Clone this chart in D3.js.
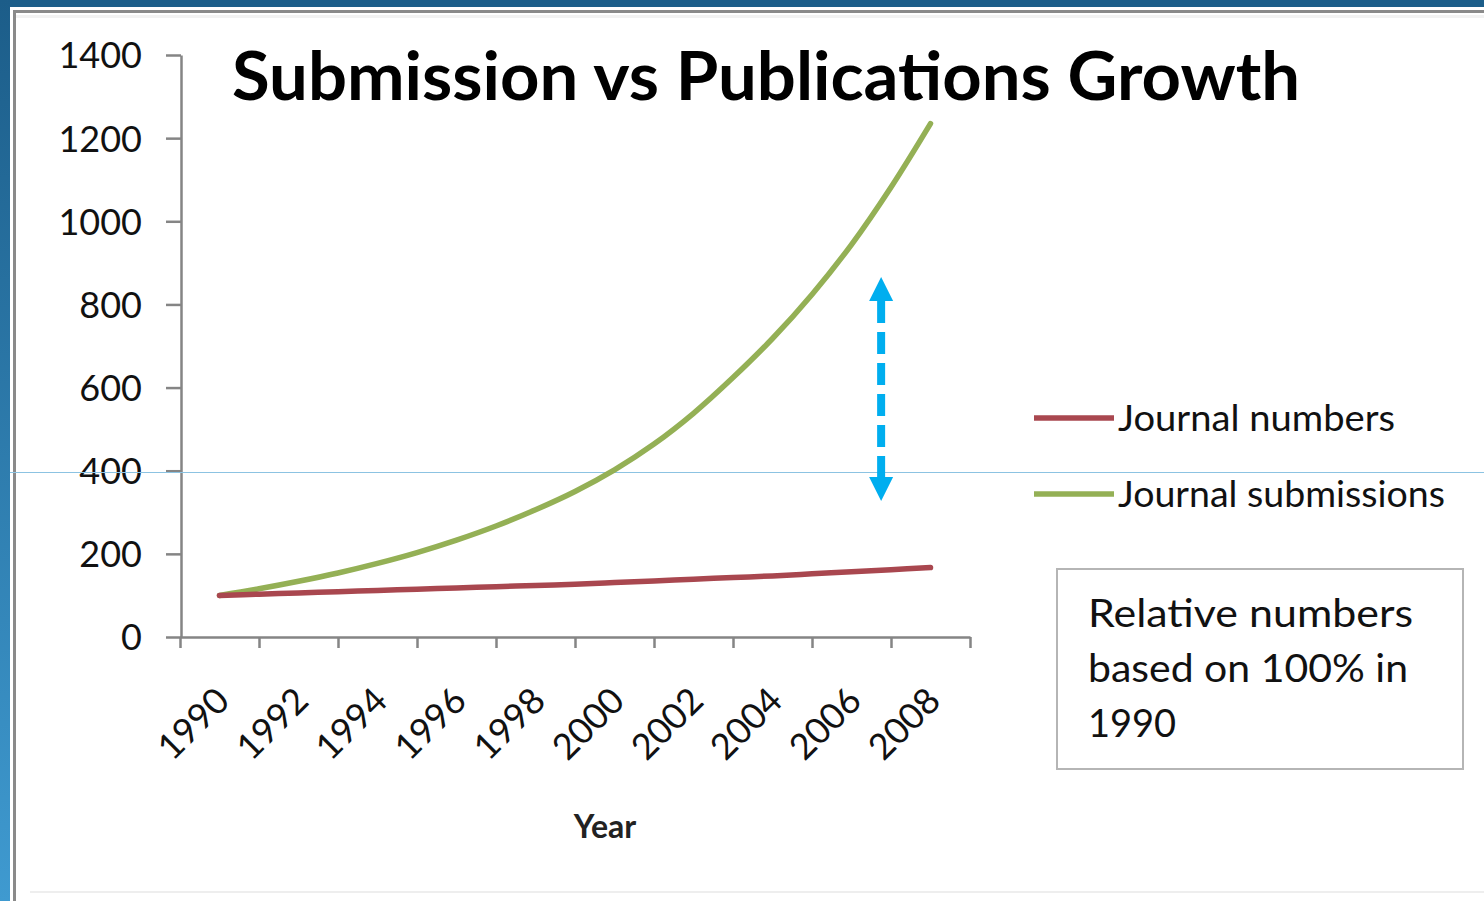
<!DOCTYPE html>
<html>
<head>
<meta charset="utf-8">
<script src="https://cdn.jsdelivr.net/npm/d3@7"></script>
<style>
  body { margin: 0; background: #fff; }
  svg { display: block; }
</style>
</head>
<body>
<div id="chart"></div>
<script>
// --- Daten (relativ zu 1990 = 100) ---
const years = [1990, 1991, 1992, 1993, 1994, 1995, 1996, 1997, 1998, 1999,
               2000, 2001, 2002, 2003, 2004, 2005, 2006, 2007, 2008];
const journalNumbers = [100, 103, 106, 109, 112, 115, 118, 121, 124, 127,
                        131, 135, 139, 143, 147, 152, 157, 162, 167];
const journalSubmissions = [100, 116, 134, 154, 177, 203, 233, 267, 306, 350,
                            402, 464, 538, 624, 718, 824, 944, 1082, 1235];
const yTicks = [0, 200, 400, 600, 800, 1000, 1200, 1400];
const xTickLabels = [1990, 1992, 1994, 1996, 1998, 2000, 2002, 2004, 2006, 2008];
const xTickMarks = [1989, 1991, 1993, 1995, 1997, 1999, 2001, 2003, 2005, 2007, 2009];
const seriesNames = ["Journal numbers", "Journal submissions"];
const noteLines = ["Relative numbers", "based on 100% in", "1990"];

const W = 1484, H = 901;
const font = "Lato, 'Open Sans', sans-serif";

const svg = d3.select("#chart").append("svg")
    .attr("width", W)
    .attr("height", H);

// Rahmen (blauer Folienrand)
const defs = svg.append("defs");
const grad = defs.append("linearGradient").attr("id", "leftband")
    .attr("x1", 0).attr("y1", 0).attr("x2", 0).attr("y2", 1);
grad.append("stop").attr("offset", "0%").attr("stop-color", "#1c5d89");
grad.append("stop").attr("offset", "100%").attr("stop-color", "#3f9ad0");

svg.append("rect").attr("x", 0).attr("y", 0).attr("width", W).attr("height", H).attr("fill", "#fff");
svg.append("rect").attr("x", 0).attr("y", 0).attr("width", W).attr("height", 7).attr("fill", "#1c5e8a");
svg.append("rect").attr("x", 0).attr("y", 0).attr("width", 10).attr("height", H).attr("fill", "url(#leftband)");
svg.append("rect").attr("x", 13).attr("y", 10).attr("width", W - 13).attr("height", 3).attr("fill", "#8a8a8a");
svg.append("rect").attr("x", 13).attr("y", 10).attr("width", 3).attr("height", H - 10).attr("fill", "#8a8a8a");
svg.append("rect").attr("x", 16).attr("y", 15).attr("width", W - 16).attr("height", 3).attr("fill", "#f2f2f2");
svg.append("rect").attr("x", 30).attr("y", 891).attr("width", W - 30).attr("height", 2).attr("fill", "#eeeeee");

// Skalen
const x = d3.scaleLinear().domain([1989, 2009]).range([180, 970]);
const y = d3.scaleLinear().domain([0, 1400]).range([637, 55]);

// Y-Achse
const yAxis = svg.append("g")
    .attr("transform", "translate(181,0)")
    .call(d3.axisLeft(y).tickValues(yTicks).tickFormat(d3.format("d"))
        .tickSize(15).tickSizeOuter(0).tickPadding(24));
yAxis.selectAll("path, line").attr("stroke", "#858585").attr("stroke-width", 2.5);
yAxis.selectAll("text")
    .style("font-family", font)
    .style("font-size", "36px")
    .attr("fill", "#111")
    .attr("dy", "0.36em");

// X-Achse
const xAxis = svg.append("g")
    .attr("transform", "translate(0,637)")
    .call(d3.axisBottom(x).tickValues(xTickMarks).tickSize(11).tickSizeOuter(0).tickFormat(""));
xAxis.selectAll("path, line").attr("stroke", "#858585").attr("stroke-width", 2.5);

svg.append("g").selectAll("text")
    .data(xTickLabels)
    .enter()
    .append("text")
    .attr("transform", d => `translate(${x(d) + 12},${703}) rotate(-45)`)
    .attr("text-anchor", "end")
    .style("font-family", font)
    .style("font-size", "36px")
    .attr("fill", "#111")
    .text(d => d);

// Achsentitel
svg.append("text")
    .attr("x", 605).attr("y", 838)
    .attr("text-anchor", "middle")
    .style("font-family", font)
    .style("font-size", "32px")
    .style("font-weight", "bold")
    .attr("fill", "#222")
    .text("Year");

// Titel
svg.append("text")
    .attr("x", 232).attr("y", 100)
    .attr("textLength", 1068)
    .attr("lengthAdjust", "spacingAndGlyphs")
    .style("font-family", font)
    .style("font-size", "66px")
    .style("font-weight", "bold")
    .attr("fill", "#000")
    .text("Submission vs Publications Growth");

// dünne hellblaue Linie quer über die Folie
svg.append("line")
    .attr("x1", 10).attr("x2", W)
    .attr("y1", 472.5).attr("y2", 472.5)
    .attr("stroke", "#8cc3e2")
    .attr("stroke-width", 1.2);

// Linien
const colors = ["#a9474f", "#94b055"];
const allSeries = [journalNumbers, journalSubmissions];
const line = d3.line()
    .x((d, i) => x(years[i]))
    .y(d => y(d))
    .curve(d3.curveCatmullRom.alpha(0.5));

svg.selectAll(".series")
    .data([1, 0])
    .enter()
    .append("path")
    .attr("fill", "none")
    .attr("stroke", k => colors[k])
    .attr("stroke-width", 5.5)
    .attr("stroke-linecap", "round")
    .attr("d", k => line(allSeries[k]));

// Doppelpfeil (Annotation, in Datenkoordinaten)
const arrowYear = 2006.75, arrowTop = 866, arrowBottom = 327;
const ax = x(arrowYear), ay1 = y(arrowTop), ay2 = y(arrowBottom);
const arrowColor = "#00aeef";
svg.append("line")
    .attr("x1", ax).attr("x2", ax)
    .attr("y1", ay1 + 24).attr("y2", ay2 - 23)
    .attr("stroke", arrowColor)
    .attr("stroke-width", 8)
    .attr("stroke-dasharray", "22 9");
svg.append("path")
    .attr("d", `M${ax},${ay1} L${ax - 12},${ay1 + 24} L${ax + 12},${ay1 + 24} Z`)
    .attr("fill", arrowColor);
svg.append("path")
    .attr("d", `M${ax},${ay2} L${ax - 12},${ay2 - 24} L${ax + 12},${ay2 - 24} Z`)
    .attr("fill", arrowColor);

// Legende
const legendY = [418, 494];
const legendW = [277, 327];
const legend = svg.append("g");
legend.selectAll("line")
    .data(seriesNames)
    .enter()
    .append("line")
    .attr("x1", 1034).attr("x2", 1114)
    .attr("y1", (d, i) => legendY[i]).attr("y2", (d, i) => legendY[i])
    .attr("stroke", (d, i) => colors[i])
    .attr("stroke-width", 5.5);
legend.selectAll("text")
    .data(seriesNames)
    .enter()
    .append("text")
    .attr("x", 1118)
    .attr("y", (d, i) => legendY[i] + 13)
    .attr("textLength", (d, i) => legendW[i])
    .attr("lengthAdjust", "spacingAndGlyphs")
    .style("font-family", font)
    .style("font-size", "37px")
    .attr("fill", "#111")
    .text(d => d);

// Textfeld
svg.append("rect")
    .attr("x", 1057).attr("y", 569)
    .attr("width", 406).attr("height", 200)
    .attr("fill", "#fff")
    .attr("stroke", "#b5b5b5")
    .attr("stroke-width", 2);
const noteW = [325, 320, null];
svg.selectAll(".note")
    .data(noteLines)
    .enter()
    .append("text")
    .attr("x", 1088)
    .attr("y", (d, i) => 627 + i * 55)
    .attr("textLength", (d, i) => noteW[i])
    .attr("lengthAdjust", "spacingAndGlyphs")
    .style("font-family", font)
    .style("font-size", "38px")
    .attr("fill", "#111")
    .text(d => d);
</script>
</body>
</html>
